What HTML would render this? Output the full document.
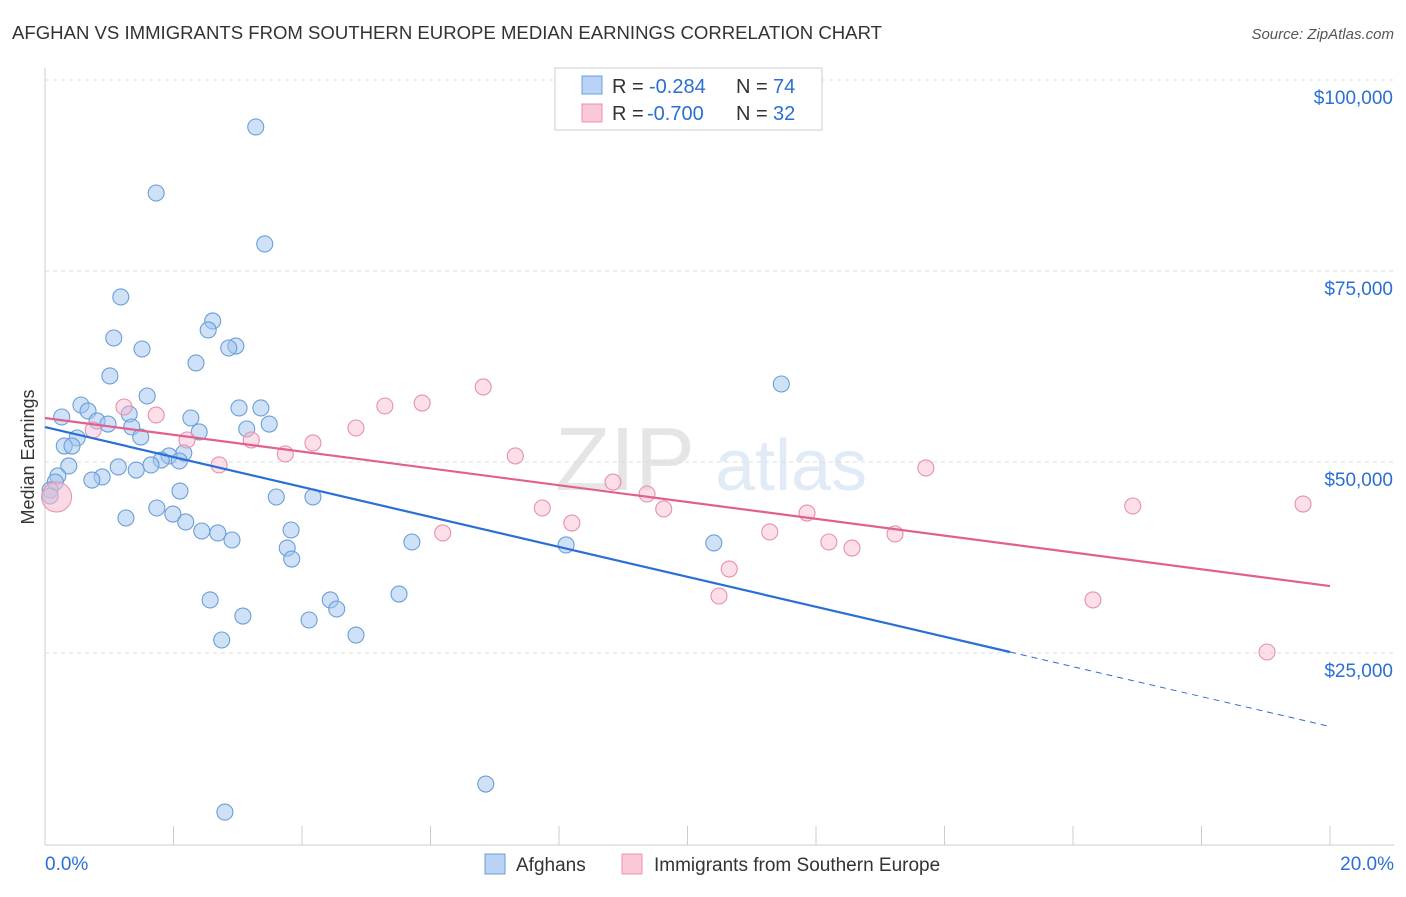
<!DOCTYPE html>
<html><head><meta charset="utf-8"><style>
body{margin:0;background:#fff;font-family:"Liberation Sans",sans-serif;}
svg text{font-family:"Liberation Sans",sans-serif;}
</style></head><body>
<svg id="chart" width="1406" height="892" xmlns="http://www.w3.org/2000/svg">
<text x="12" y="39" font-size="18" fill="#333" textLength="870" lengthAdjust="spacingAndGlyphs">AFGHAN VS IMMIGRANTS FROM SOUTHERN EUROPE MEDIAN EARNINGS CORRELATION CHART</text>
<text x="1394" y="39" font-size="15" fill="#555" font-style="italic" text-anchor="end">Source: ZipAtlas.com</text>
<text x="34" y="457" font-size="18" fill="#333" text-anchor="middle" transform="rotate(-90 34 457)">Median Earnings</text>
<g opacity="0.25">
<text x="555" y="490" font-size="90" fill="#999" font-family="Liberation Serif">ZIP</text>
<text x="715" y="490" font-size="72" fill="#8ab0e0">atlas</text>
</g>
<g id="grid"></g><g id="axes"></g><g id="pts"></g><g id="lines"></g>
<g>
<rect x="555" y="68" width="267" height="62" fill="#fff" stroke="#ccc"/>
<rect x="582" y="76" width="20" height="18" fill="#b8d3f5" stroke="#6a9fd8"/>
<rect x="582" y="104" width="20" height="18" fill="#fbc8d7" stroke="#e890ab"/>
<text x="612" y="93" font-size="20" fill="#333">R =</text>
<text x="649" y="93" font-size="20" fill="#2a6fd6">-0.284</text>
<text x="736" y="93" font-size="20" fill="#333">N =</text>
<text x="773" y="93" font-size="20" fill="#2a6fd6">74</text>
<text x="612" y="120" font-size="20" fill="#333">R =</text>
<text x="647" y="120" font-size="20" fill="#2a6fd6">-0.700</text>
<text x="736" y="120" font-size="20" fill="#333">N =</text>
<text x="773" y="120" font-size="20" fill="#2a6fd6">32</text>
</g>
<g>
<rect x="485" y="854" width="20" height="20" fill="#b8d3f5" stroke="#6a9fd8"/>
<text x="516" y="871" font-size="19" fill="#333">Afghans</text>
<rect x="622" y="854" width="20" height="20" fill="#fbc8d7" stroke="#e890ab"/>
<text x="654" y="871" font-size="19" fill="#333">Immigrants from Southern Europe</text>
</g>
</svg>
<script>
const yTicks=[25000,50000,75000,100000];
const yTickLabels=["$25,000","$50,000","$75,000","$100,000"];
const xTickCount=[0,2,4,6,8,10,12,14,16,18,20];
const afghanX=[3.28,1.73,3.42,1.18,2.61,2.54,1.07,2.97,2.86,1.51,2.35,1.01,11.46,1.59,0.56,3.02,3.36,0.67,0.26,1.31,2.27,0.81,0.98,3.49,1.35,3.14,2.40,1.49,0.50,0.30,0.42,2.16,1.93,1.81,2.09,1.65,0.37,1.14,1.42,0.20,0.89,0.73,0.16,0.08,2.10,0.08,3.60,4.17,1.74,1.99,1.26,2.19,3.83,2.44,2.69,2.91,5.71,10.41,8.11,3.77,3.84,5.51,2.57,4.44,4.54,3.08,4.11,4.84,2.75,6.86,2.80];
const afghanY=[93850,85210,78540,71600,68460,67280,66230,65180,64920,64790,62960,61260,60210,58640,57460,57070,57070,56680,55890,56280,55760,55370,54970,54970,54580,54320,53930,53270,53140,52090,52090,51180,50790,50260,50130,49610,49480,49350,48950,48170,48040,47640,47380,46330,46200,45550,45420,45420,43980,43190,42670,42150,41100,40970,40710,39790,39530,39400,39140,38740,37300,32720,31940,31940,30760,29840,29320,27350,26700,7850,4180];
const seX=[1.23,1.73,0.75,2.21,3.21,4.17,3.74,2.71,4.84,5.29,5.87,6.82,7.32,6.19,7.74,8.20,8.84,9.37,9.63,10.65,10.49,11.28,11.86,12.20,12.56,13.23,13.71,16.31,16.93,19.02,19.58];
const seY=[57200,56150,54190,52880,52880,52490,51050,49610,54450,57330,57720,59820,50790,40710,43980,42010,47380,45810,43850,35990,32460,40840,43320,39530,38740,40580,49220,31940,44240,25130,44500];
const bigPoint=[0.18,45420];
const blueTrend=[54570,-1960,15.02];
const pinkTrend=[55760,-1100];
const X=p=>45+p*64.25, Y=v=>462-(v-50000)*191/25000;
const NS="http://www.w3.org/2000/svg";
function mk(t,a,parent){const e=document.createElementNS(NS,t);for(const k in a)e.setAttribute(k,a[k]);document.getElementById(parent).appendChild(e);return e;}
yTicks.forEach((v,i)=>{
 const l=mk('line',{x1:45,x2:1394,y1:Y(v),y2:Y(v),stroke:'#ddd','stroke-dasharray':'4,4'},'grid');
 
 
 const t=mk('text',{x:1393,y:Y(v)+24,'font-size':19,fill:'#2a6fd6','text-anchor':'end'},'grid');
 t.textContent=yTickLabels[i];
 
 
});
const ax=mk('line',{x1:45,x2:45,y1:68,y2:845,stroke:'#ccc'},'axes');


const bx=mk('line',{x1:45,x2:1394,y1:845,y2:845,stroke:'#ccc'},'axes');


xTickCount.forEach(p=>{const t=mk('line',{x1:X(p),x2:X(p),y1:826,y2:845,stroke:'#ccc'},'axes');
 
 });
let t0=mk('text',{x:45,y:870,'font-size':19,fill:'#2a6fd6'},'axes');t0.textContent='0.0%';


let t1=mk('text',{x:1394,y:870,'font-size':19,fill:'#2a6fd6','text-anchor':'end'},'axes');t1.textContent='20.0%';


afghanX.forEach((x,i)=>{const c=mk('circle',{cx:X(x),cy:Y(afghanY[i]),r:8,fill:'rgba(160,195,240,0.5)',stroke:'#6a9fd8','stroke-width':1.1},'pts');
 
 });
seX.forEach((x,i)=>{const c=mk('circle',{cx:X(x),cy:Y(seY[i]),r:8,fill:'rgba(248,185,205,0.45)',stroke:'#e890ab','stroke-width':1.1},'pts');
 
 });
const bp=mk('circle',{cx:X(bigPoint[0]),cy:Y(bigPoint[1]),r:15,fill:'rgba(248,185,205,0.55)',stroke:'#e890ab'},'pts');


const bl=mk('line',{x1:X(0),y1:Y(blueTrend[0]),x2:X(blueTrend[2]),y2:Y(blueTrend[0]+blueTrend[1]*blueTrend[2]),stroke:'#2a6fd6','stroke-width':2.2},'lines');


const bd=mk('line',{x1:X(blueTrend[2]),y1:Y(blueTrend[0]+blueTrend[1]*blueTrend[2]),x2:X(20),y2:Y(blueTrend[0]+blueTrend[1]*20),stroke:'#2a6fd6','stroke-width':1,'stroke-dasharray':'6,5'},'lines');


const pl=mk('line',{x1:X(0),y1:Y(pinkTrend[0]),x2:X(20),y2:Y(pinkTrend[0]+pinkTrend[1]*20),stroke:'#e0608f','stroke-width':2.2},'lines');


</script>
</body></html>
